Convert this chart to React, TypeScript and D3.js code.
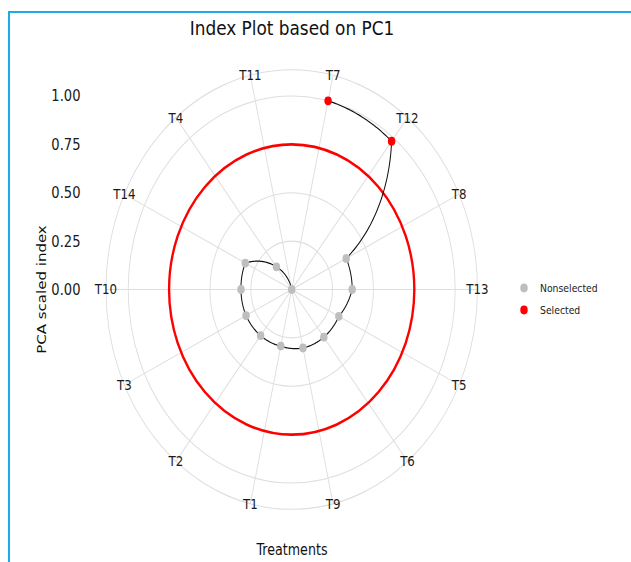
import React from "react";
import * as d3 from "d3";

// treatments in the order they appear clockwise from the top
const treatments = ["T7", "T12", "T8", "T13", "T5", "T6", "T9", "T1", "T2", "T3", "T10", "T14", "T4", "T11"];
const indexValues = [1.0, 0.98, 0.37, 0.37, 0.32, 0.315, 0.31, 0.3, 0.305, 0.31, 0.31, 0.315, 0.15, 0.0];
const radialTicks = [0, 0.25, 0.5, 0.75, 1.0];
const threshold = 0.75;
const legendItems = ["Nonselected", "Selected"];

const W = 631;
const H = 562;
const sx = 0.845; // the source picture is squeezed horizontally
const cx = 291.7 / sx;
const cy = 289.5;
const font = "DejaVu Sans, Verdana, sans-serif";

const App = () => {
    const r = d3.scaleLinear().domain([0, 1]).range([0, 193.5]);
    const outerR = r(1.136);
    const theta = d3.scaleBand().domain(treatments).range([0, 2 * Math.PI]).padding(0);
    const ang = (t) => (theta(t) as number) + theta.bandwidth() / 2;
    const px = (a, rr) => rr * Math.sin(a);
    const py = (a, rr) => -rr * Math.cos(a);

    const colour = d3.scaleOrdinal().domain(legendItems).range(["#bebebe", "#ff0000"]);
    const status = (v) => (v > threshold ? "Selected" : "Nonselected");

    // polar "munching": interpolate angle and radius between points
    const munched = [];
    for (let i = 0; i < treatments.length - 1; i++) {
        const a0 = ang(treatments[i]), a1 = ang(treatments[i + 1]);
        const v0 = indexValues[i], v1 = indexValues[i + 1];
        const steps = 40;
        for (let s = 0; s <= steps; s++) {
            const t = s / steps;
            munched.push([a0 + (a1 - a0) * t, r(v0 + (v1 - v0) * t)]);
        }
    }
    const radial = d3.lineRadial().angle(d => d[0]).radius(d => d[1]);

    return (
        <svg width={W} height={H} style={{ position: "absolute", left: 0, top: 0, background: "#fff" }}>
            <rect x={9} y={12} width={W} height={H} fill="none" stroke="#1fa9e6" strokeWidth={2} />
            <g transform={`scale(${sx},1)`} fontFamily={font}>
                <text x={292 / sx} y={35} textAnchor="middle" fontSize={20} fill="#111">Index Plot based on PC1</text>

                <g transform={`translate(${cx},${cy})`}>
                    {/* grid circles */}
                    {radialTicks.filter(d => d > 0).map(d => (
                        <circle key={d} r={r(d)} fill="none" stroke="#dedede" strokeWidth={1.1} />
                    ))}
                    <circle r={outerR} fill="none" stroke="#dedede" strokeWidth={1.1} />
                    {/* spokes */}
                    {treatments.map(t => (
                        <line key={t} x1={0} y1={0} x2={px(ang(t), outerR)} y2={py(ang(t), outerR)} stroke="#dedede" strokeWidth={1.1} />
                    ))}
                    {/* threshold */}
                    <circle r={r(threshold)} fill="none" stroke="#ff0000" strokeWidth={2.8} />
                    {/* index path */}
                    <path d={radial(munched)} fill="none" stroke="#111" strokeWidth={1.2} />
                    {treatments.map((t, i) => (
                        <circle key={t} cx={px(ang(t), r(indexValues[i]))} cy={py(ang(t), r(indexValues[i]))} r={4.4}
                            fill={colour(status(indexValues[i])) as string} />
                    ))}
                    {/* theta labels */}
                    {treatments.map(t => (
                        <text key={t} x={px(ang(t), outerR)} y={py(ang(t), outerR)} dy="0.35em" textAnchor="middle"
                            fontSize={14} fill="#1a1a1a">{t}</text>
                    ))}
                </g>

                {/* radial axis labels */}
                {radialTicks.map(d => (
                    <text key={d} x={80.5 / sx} y={cy - r(d)} dy="0.35em" textAnchor="end" fontSize={15.5} fill="#1a1a1a">
                        {d3.format(".2f")(d)}
                    </text>
                ))}
                <text transform={`translate(${46 / sx},${cy}) rotate(-90)`} textAnchor="middle" fontSize={15} fill="#111">PCA scaled index</text>
                <text x={292 / sx} y={555} textAnchor="middle" fontSize={15} fill="#111">Treatments</text>

                {/* legend */}
                {legendItems.map((k, i) => (
                    <g key={k} transform={`translate(${524 / sx},${288 + i * 22})`}>
                        <circle r={4.4} fill={colour(k) as string} />
                        <text x={16 / sx} dy="0.35em" fontSize={11} fill="#222">{k}</text>
                    </g>
                ))}
            </g>
        </svg>
    );
};

export default App;
